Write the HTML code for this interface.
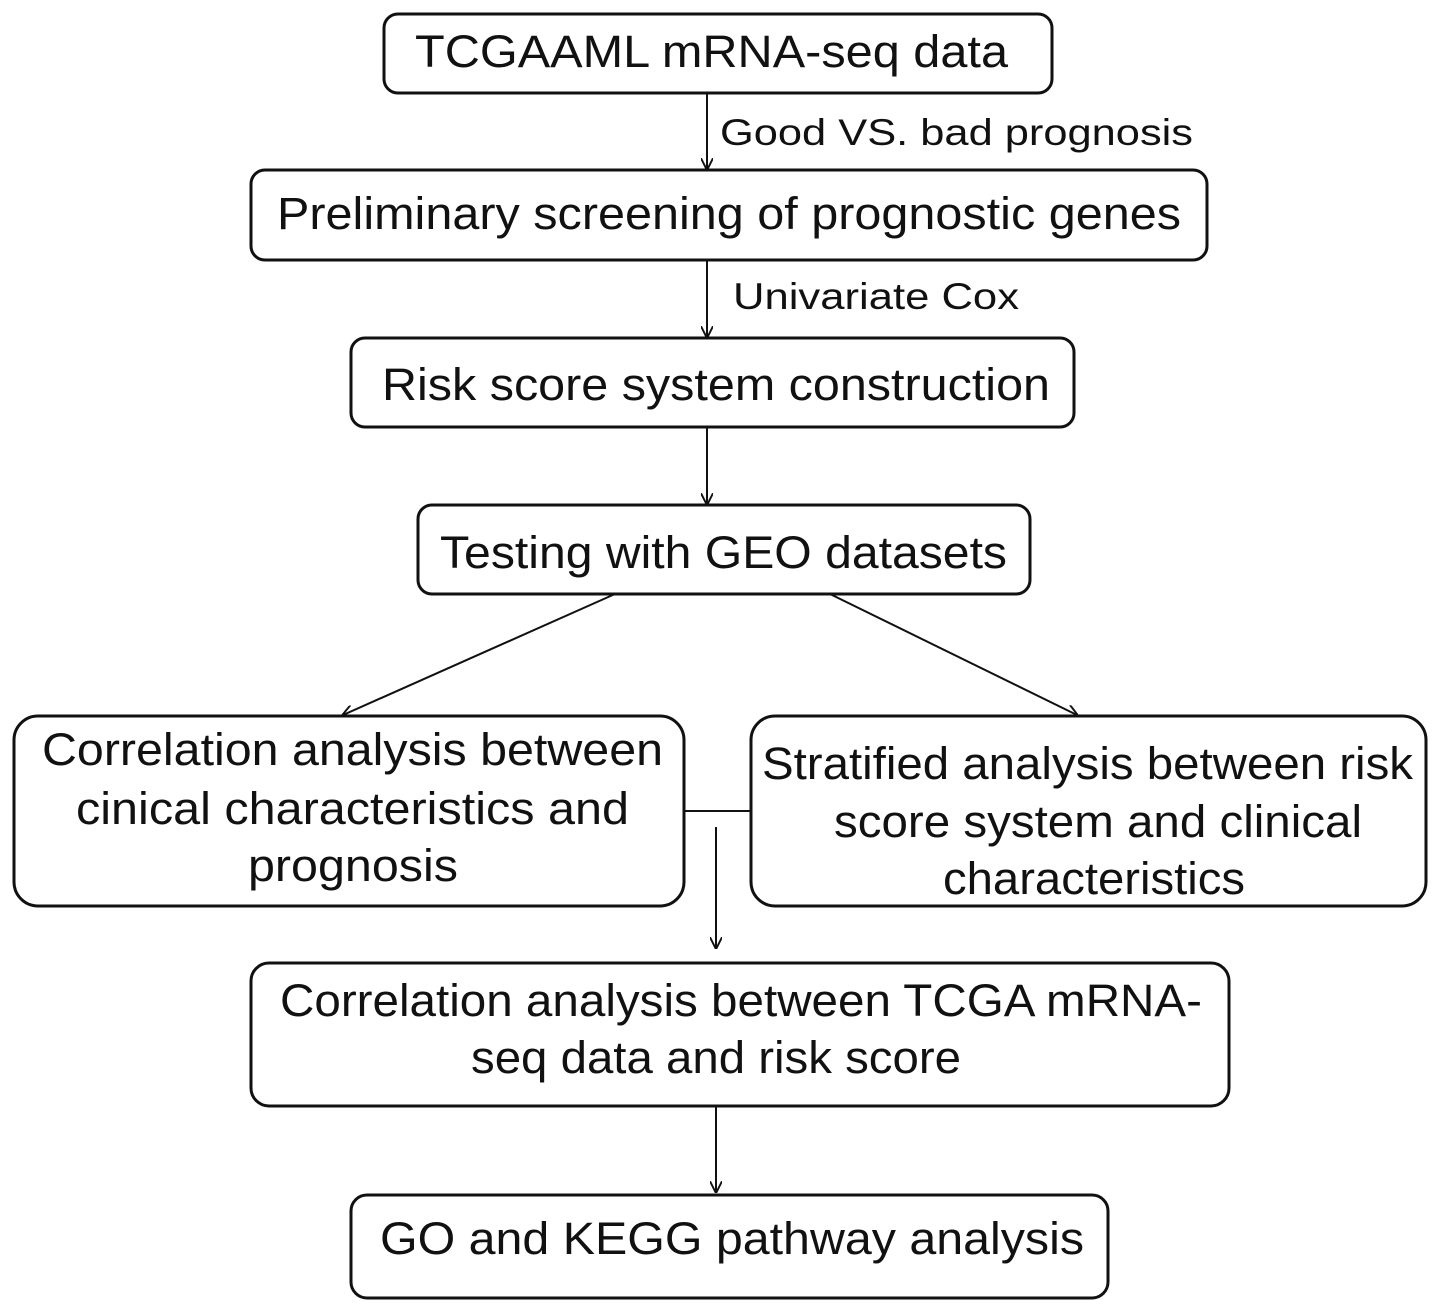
<!DOCTYPE html>
<html><head><style>body{margin:0;background:#fff}svg{display:block}</style></head><body>
<svg width="1441" height="1311" viewBox="0 0 1441 1311" xmlns="http://www.w3.org/2000/svg" font-family="Liberation Sans, Arial, sans-serif" fill="#111">
<defs><marker id="a" viewBox="0 0 10 10" refX="9" refY="5" markerWidth="12" markerHeight="12" markerUnits="userSpaceOnUse" orient="auto"><path d="M0,0 L10,5 L0,10" fill="none" stroke="#111" stroke-width="1.6"/></marker></defs>
<g fill="none" stroke="#111" stroke-width="3">
<rect x="384" y="14" width="668" height="79" rx="14"/>
<rect x="251" y="170" width="956" height="90" rx="14"/>
<rect x="351" y="338" width="723" height="89" rx="14"/>
<rect x="418" y="505" width="612" height="89" rx="14"/>
<rect x="14" y="716" width="670" height="190" rx="24"/>
<rect x="751" y="716" width="675" height="190" rx="24"/>
<rect x="251" y="963" width="978" height="143" rx="18"/>
<rect x="351" y="1195" width="757" height="103" rx="16"/>
</g>
<g stroke="#111" stroke-width="2" marker-end="url(#a)">
<line x1="707" y1="93" x2="707" y2="169"/>
<line x1="707" y1="260" x2="707" y2="337"/>
<line x1="707" y1="427" x2="707" y2="504"/>
<line x1="615" y1="594" x2="343" y2="715"/>
<line x1="830" y1="594" x2="1077" y2="715"/>
<line x1="716" y1="827" x2="716" y2="948"/>
<line x1="716" y1="1106" x2="716" y2="1192"/>
</g>
<line x1="684" y1="811" x2="751" y2="811" stroke="#111" stroke-width="2"/>
<g font-size="45" lengthAdjust="spacingAndGlyphs">
<text x="415" y="67" textLength="593" lengthAdjust="spacingAndGlyphs">TCGAAML mRNA-seq data</text>
<text x="277" y="229" textLength="904" lengthAdjust="spacingAndGlyphs">Preliminary screening of prognostic genes</text>
<text x="382" y="400" textLength="668" lengthAdjust="spacingAndGlyphs">Risk score system construction</text>
<text x="440" y="568" textLength="567" lengthAdjust="spacingAndGlyphs">Testing with GEO datasets</text>
<text x="42" y="765" textLength="621" lengthAdjust="spacingAndGlyphs">Correlation analysis between</text>
<text x="76" y="824" textLength="553" lengthAdjust="spacingAndGlyphs">cinical characteristics and</text>
<text x="248" y="881" textLength="210" lengthAdjust="spacingAndGlyphs">prognosis</text>
<text x="762" y="779" textLength="651" lengthAdjust="spacingAndGlyphs">Stratified analysis between risk</text>
<text x="834" y="837" textLength="528" lengthAdjust="spacingAndGlyphs">score system and clinical</text>
<text x="943" y="894" textLength="302" lengthAdjust="spacingAndGlyphs">characteristics</text>
<text x="280" y="1016" textLength="922" lengthAdjust="spacingAndGlyphs">Correlation analysis between TCGA mRNA-</text>
<text x="471" y="1073" textLength="490" lengthAdjust="spacingAndGlyphs">seq data and risk score</text>
<text x="380" y="1254" textLength="704" lengthAdjust="spacingAndGlyphs">GO and KEGG pathway analysis</text>
</g>
<g font-size="37">
<text x="720" y="145" textLength="473" lengthAdjust="spacingAndGlyphs">Good VS. bad prognosis</text>
<text x="733" y="309" textLength="286" lengthAdjust="spacingAndGlyphs">Univariate Cox</text>
</g>
</svg>
</body></html>
